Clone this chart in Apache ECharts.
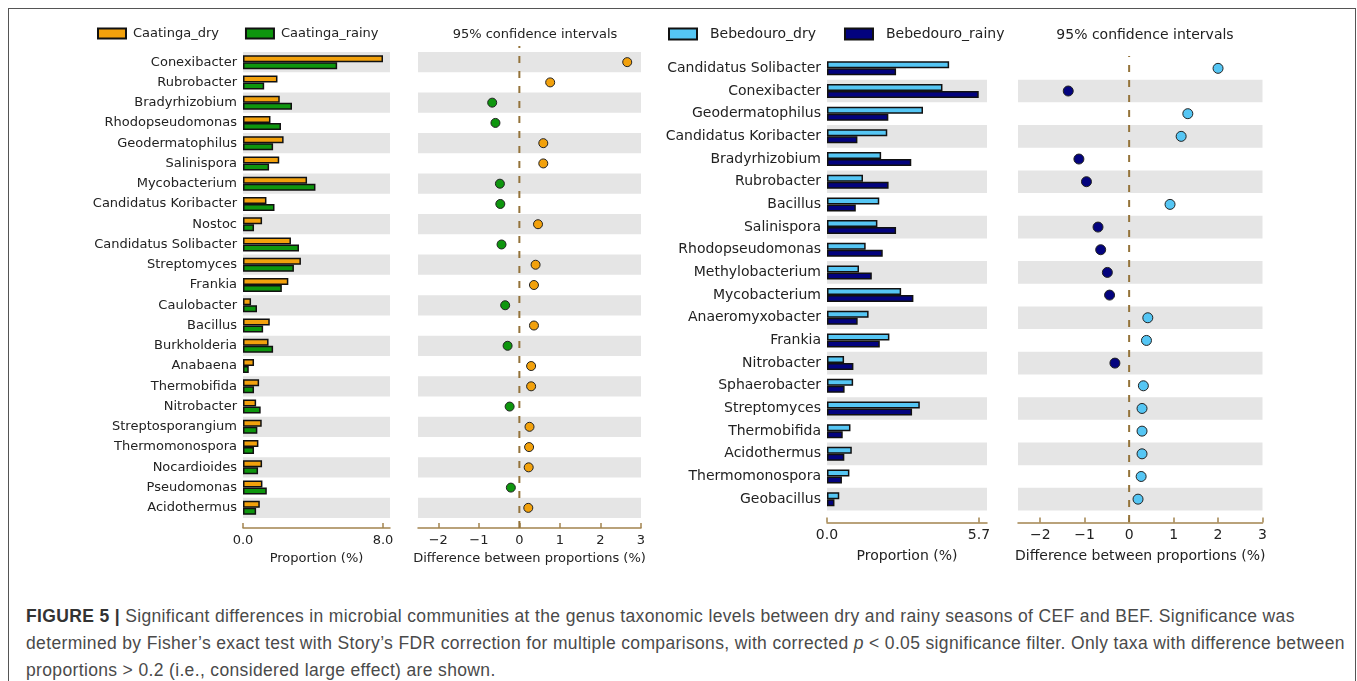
<!DOCTYPE html>
<html>
<head>
<meta charset="utf-8">
<script src="https://cdn.jsdelivr.net/npm/echarts@6/dist/echarts.min.js"></script>
<style>
  html, body { margin: 0; padding: 0; background: #fff; }
  #frame {
    position: absolute; left: 8px; top: 8px; width: 1348px; height: 700px;
    border: 1.5px solid #555; box-sizing: border-box;
  }
  #chart { position: absolute; left: 0; top: 0; width: 1357px; height: 590px; }
  #caption {
    position: absolute; left: 26px; top: 603px; width: 1320px;
    font-family: "Liberation Sans", Arial, sans-serif; font-size: 17.5px; letter-spacing: 0.35px;
    line-height: 27px; color: #4a4a4a; white-space: nowrap;
  }
  #caption b { color: #333; }
</style>
</head>
<body>
<div id="frame"></div>
<div id="chart"></div>
<div id="caption">
  <b>FIGURE 5 |</b> Significant differences in microbial communities at the genus taxonomic levels between dry and rainy seasons of CEF and BEF. Significance was<br>
  determined by Fisher’s exact test with Story’s FDR correction for multiple comparisons, with corrected <i>p</i> &lt; 0.05 significance filter. Only taxa with difference between<br>
  proportions &gt; 0.2 (i.e., considered large effect) are shown.
</div>
<script>
// Caatinga (CEF)
var leftTaxa = ["Conexibacter", "Rubrobacter", "Bradyrhizobium", "Rhodopseudomonas", "Geodermatophilus",
  "Salinispora", "Mycobacterium", "Candidatus Koribacter", "Nostoc", "Candidatus Solibacter",
  "Streptomyces", "Frankia", "Caulobacter", "Bacillus", "Burkholderia", "Anabaena", "Thermobifida",
  "Nitrobacter", "Streptosporangium", "Thermomonospora", "Nocardioides", "Pseudomonas", "Acidothermus"];
var caatingaDry = [8.0, 1.97, 2.1, 1.57, 2.32, 2.07, 3.66, 1.34, 1.09, 2.74, 3.31, 2.59, 0.46, 1.53, 1.46,
  0.63, 0.92, 0.75, 1.07, 0.88, 1.09, 1.11, 0.96];
var caatingaRainy = [5.38, 1.21, 2.8, 2.17, 1.72, 1.49, 4.14, 1.8, 0.63, 3.2, 2.91, 2.22, 0.8, 1.15, 1.72,
  0.33, 0.63, 1.01, 0.82, 0.63, 0.86, 1.36, 0.75];
var caatingaDiff = [2.66, 0.76, -0.67, -0.59, 0.59, 0.59, -0.48, -0.47, 0.46, -0.44, 0.40, 0.36, -0.35,
  0.36, -0.29, 0.29, 0.29, -0.24, 0.25, 0.24, 0.23, -0.21, 0.22];

// Bebedouro (BEF)
var rightTaxa = ["Candidatus Solibacter", "Conexibacter", "Geodermatophilus", "Candidatus Koribacter",
  "Bradyrhizobium", "Rubrobacter", "Bacillus", "Salinispora", "Rhodopseudomonas", "Methylobacterium",
  "Mycobacterium", "Anaeromyxobacter", "Frankia", "Nitrobacter", "Sphaerobacter", "Streptomyces",
  "Thermobifida", "Acidothermus", "Thermomonospora", "Geobacillus"];
var bebedouroDry = [4.58, 4.33, 3.6, 2.26, 2.03, 1.35, 1.96, 1.89, 1.45, 1.2, 2.78, 1.56, 2.34, 0.64, 0.98,
  3.48, 0.88, 0.93, 0.84, 0.46];
var bebedouroRainy = [2.59, 5.69, 2.3, 1.14, 3.16, 2.31, 1.08, 2.59, 2.09, 1.68, 3.24, 1.15, 1.98, 0.99, 0.66,
  3.19, 0.59, 0.65, 0.56, 0.28];
var bebedouroDiff = [2.0, -1.37, 1.32, 1.17, -1.13, -0.96, 0.92, -0.70, -0.64, -0.49, -0.44, 0.42, 0.39,
  -0.32, 0.32, 0.29, 0.29, 0.29, 0.27, 0.20];

var propTicksLeft = [0, 8];
var propTicksRight = [0, 5.7];
var diffTicks = [-2, -1, 0, 1, 2, 3];
var zeroRef = 0;

var orange = "#f2a10c", green = "#0e960e", skyBlue = "#55c6f4", navy = "#03037e";
var tan = "#a3844f", band = "#e5e5e5", clear = "rgba(255,255,255,0)";

var chart = echarts.init(document.getElementById("chart"));

function propAxis(grid, max, ticks, offset, fs, gap) {
  return {
    type: "value", gridIndex: grid, min: 0, max: max, offset: offset,
    name: "Proportion (%)", nameLocation: "middle", nameGap: gap,
    nameTextStyle: { fontSize: fs, color: "#222", fontFamily: "DejaVu Sans" },
    axisLine: { show: true, onZero: false, lineStyle: { color: tan, width: 1.5 } },
    axisTick: { show: true, inside: true, length: 5, customValues: ticks, lineStyle: { color: tan, width: 1.5 } },
    axisLabel: { customValues: ticks, fontSize: fs, color: "#222", margin: 6, fontFamily: "DejaVu Sans",
      formatter: function (v) { return v.toFixed(1); } },
    splitLine: { show: false }
  };
}
function diffAxis(grid, offset, fs, gap) {
  return {
    type: "value", gridIndex: grid, min: -2.5, max: 3, offset: offset,
    name: "Difference between proportions (%)", nameLocation: "middle", nameGap: gap,
    nameTextStyle: { fontSize: fs, color: "#222", fontFamily: "DejaVu Sans" },
    axisLine: { show: true, onZero: false, lineStyle: { color: tan, width: 1.5 } },
    axisTick: { show: true, inside: true, length: 5, customValues: diffTicks, lineStyle: { color: tan, width: 1.5 } },
    axisLabel: { customValues: diffTicks, fontSize: fs, color: "#222", margin: 6, fontFamily: "DejaVu Sans",
      formatter: function (v) { return v < 0 ? "\u2212" + Math.abs(v) : String(v); } },
    splitLine: { show: false }
  };
}
function hiddenAxis(grid) {
  return { type: "value", gridIndex: grid, min: -2.5, max: 3, show: false };
}
function taxaAxis(grid, taxa, colors, showLabels, fs) {
  return {
    type: "category", gridIndex: grid, data: taxa, inverse: true,
    axisLine: { show: false }, axisTick: { show: false },
    axisLabel: { show: showLabels, fontSize: fs, color: "#222", margin: 6, fontFamily: "DejaVu Sans" },
    splitArea: { show: true, areaStyle: { color: colors } }
  };
}
function bars(name, x, y, values, color) {
  return {
    name: name, type: "bar", xAxisIndex: x, yAxisIndex: y, data: values,
    barWidth: 7, barGap: "0%", silent: true,
    itemStyle: { color: color, borderColor: "#111", borderWidth: 1.5 }
  };
}
function dots(x, y, taxa, diffs, posColor, negColor, size) {
  return {
    type: "scatter", xAxisIndex: x, yAxisIndex: y, symbolSize: size, silent: true,
    data: diffs.map(function (d, i) {
      return { value: [d, taxa[i]], itemStyle: { color: d > 0 ? posColor : negColor } };
    }),
    itemStyle: { opacity: 1, borderColor: "#222", borderWidth: 1 }
  };
}
function zeroLine(x, y) {
  return {
    type: "line", xAxisIndex: x, yAxisIndex: y, symbol: "none", silent: true,
    data: [[zeroRef, 0], [zeroRef, 1]],
    lineStyle: { color: "#94733a", width: 2, type: [7, 8] }
  };
}

var option = {
  animation: false,
  textStyle: { fontFamily: "DejaVu Sans" },
  title: [
    { text: "95% confidence intervals", left: 530, top: 23, textAlign: "center",
      textStyle: { fontSize: 13, fontWeight: "normal", color: "#222", fontFamily: "DejaVu Sans" } },
    { text: "95% confidence intervals", left: 1140, top: 23, textAlign: "center",
      textStyle: { fontSize: 14, fontWeight: "normal", color: "#222", fontFamily: "DejaVu Sans" } }
  ],
  legend: [
    { data: ["Caatinga_dry", "Caatinga_rainy"], left: 97, top: 27, padding: 0,
      itemWidth: 28, itemHeight: 10, itemGap: 26, icon: "rect",
      textStyle: { fontSize: 13, color: "#222", fontFamily: "DejaVu Sans", padding: [0, 0, 0, 2] } },
    { data: ["Bebedouro_dry", "Bebedouro_rainy"], left: 668, top: 27, padding: 0,
      itemWidth: 28, itemHeight: 11, itemGap: 28, icon: "rect",
      textStyle: { fontSize: 14, color: "#222", fontFamily: "DejaVu Sans", padding: [0, 0, 0, 8] } }
  ],
  grid: [
    { left: 243, top: 52, width: 147, height: 466 },
    { left: 418, top: 52, width: 223, height: 466 },
    { left: 418, top: 46, width: 223, height: 482 },
    { left: 827, top: 57, width: 160, height: 453.5 },
    { left: 1018, top: 57, width: 244.5, height: 453.5 },
    { left: 1018, top: 56, width: 244.5, height: 466 }
  ],
  xAxis: [
    propAxis(0, 8.4, propTicksLeft, 10, 13, 23),
    diffAxis(1, 10, 13, 23),
    hiddenAxis(2),
    propAxis(3, 6.0, propTicksRight, 12, 14, 27),
    diffAxis(4, 12, 14, 27),
    hiddenAxis(5)
  ],
  yAxis: [
    taxaAxis(0, leftTaxa, [band, clear], true, 13),
    taxaAxis(1, leftTaxa, [band, clear], false, 13),
    { type: "value", gridIndex: 2, min: 0, max: 1, show: false },
    taxaAxis(3, rightTaxa, [clear, band], true, 14),
    taxaAxis(4, rightTaxa, [clear, band], false, 14),
    { type: "value", gridIndex: 5, min: 0, max: 1, show: false }
  ],
  series: [
    bars("Caatinga_dry", 0, 0, caatingaDry, orange),
    bars("Caatinga_rainy", 0, 0, caatingaRainy, green),
    zeroLine(2, 2),
    dots(1, 1, leftTaxa, caatingaDiff, orange, green, 9),
    bars("Bebedouro_dry", 3, 3, bebedouroDry, skyBlue),
    bars("Bebedouro_rainy", 3, 3, bebedouroRainy, navy),
    zeroLine(5, 5),
    dots(4, 4, rightTaxa, bebedouroDiff, skyBlue, navy, 10)
  ]
};
chart.setOption(option);
</script>
</body>
</html>
